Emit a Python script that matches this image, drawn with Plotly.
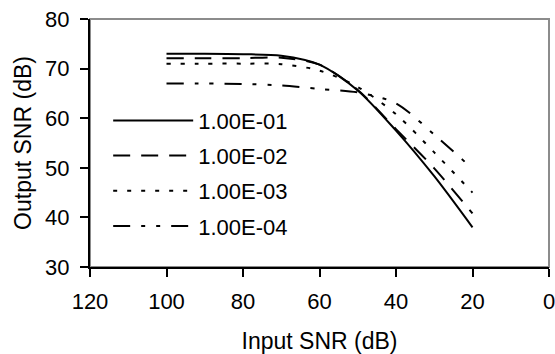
import plotly.graph_objects as go

input_snr = [100, 90, 80, 70, 60, 50, 40, 30, 20]
series_names = ["1.00E-01", "1.00E-02", "1.00E-03", "1.00E-04"]
out_e1 = [73.0, 73.0, 72.9, 72.6, 70.8, 65.6, 57.5, 48.3, 38.0]
out_e2 = [72.1, 72.1, 72.1, 72.2, 70.8, 65.7, 57.8, 49.9, 40.8]
out_e3 = [71.0, 71.0, 71.0, 70.9, 69.6, 66.3, 60.8, 53.1, 45.0]
out_e4 = [67.0, 67.0, 66.9, 66.6, 65.9, 65.2, 63.0, 56.7, 49.8]

x_ticks = [120, 100, 80, 60, 40, 20, 0]
y_ticks = [30, 40, 50, 60, 70, 80]

dashes = ["solid", "17px,11px", "4px,10px", "17px,11px,4px,11px,4px,11px"]
values = [out_e1, out_e2, out_e3, out_e4]

FONT = "Liberation Sans, Arial, sans-serif"

fig = go.Figure()
for i, (name, ys, d) in enumerate(zip(series_names, values, dashes)):
    fig.add_trace(go.Scatter(
        x=input_snr, y=ys, name=name, mode="lines",
        line=dict(color="black", width=2, dash=d, shape="spline", smoothing=0.8),
        legendgroup=f"g{i}",
    ))

fig.update_layout(
    width=555, height=354,
    margin=dict(l=90, r=6, t=19, b=87, pad=0, autoexpand=False),
    paper_bgcolor="white", plot_bgcolor="white",
    font=dict(family=FONT, size=22, color="black"),
    showlegend=True,
    legend=dict(
        x=0.0396, y=0.675, xanchor="left", yanchor="top",
        bgcolor="rgba(0,0,0,0)", borderwidth=0,
        font=dict(size=22, family=FONT),
        itemwidth=80, tracegroupgap=3.6, traceorder="grouped",
    ),
    shapes=[dict(type="rect", xref="paper", yref="paper", x0=0, x1=1, y0=0, y1=1,
                 line=dict(color="#8c8c8c", width=2), layer="below")],
)
fig.update_xaxes(
    range=[120, 0], tickmode="array", tickvals=x_ticks, automargin=True,
    showgrid=False, zeroline=False, showline=True, linecolor="black", linewidth=2,
    ticks="outside", ticklen=8, tickwidth=2, tickcolor="black",
    tickfont=dict(size=22, family=FONT), ticklabelstandoff=6, ticklabeloverflow="allow",
    title=dict(text="Input SNR (dB)", font=dict(size=23, family=FONT), standoff=22),
)
fig.update_yaxes(
    range=[30, 80], tickmode="array", tickvals=y_ticks, automargin=True,
    showgrid=False, zeroline=False, showline=True, linecolor="black", linewidth=2,
    ticks="outside", ticklen=8, tickwidth=2, tickcolor="black",
    tickfont=dict(size=22, family=FONT), ticklabelstandoff=6, ticklabeloverflow="allow",
    title=dict(text="Output SNR (dB)", font=dict(size=23, family=FONT), standoff=7),
)

# remove the browser's default 8px page margin so the 555x354 figure fills the window
page_fix = ("document.documentElement.style.overflow='hidden';"
            "document.body.style.margin='0';document.body.style.overflow='hidden';")
fig.write_html("out.html", post_script=page_fix, config={"displayModeBar": False})
